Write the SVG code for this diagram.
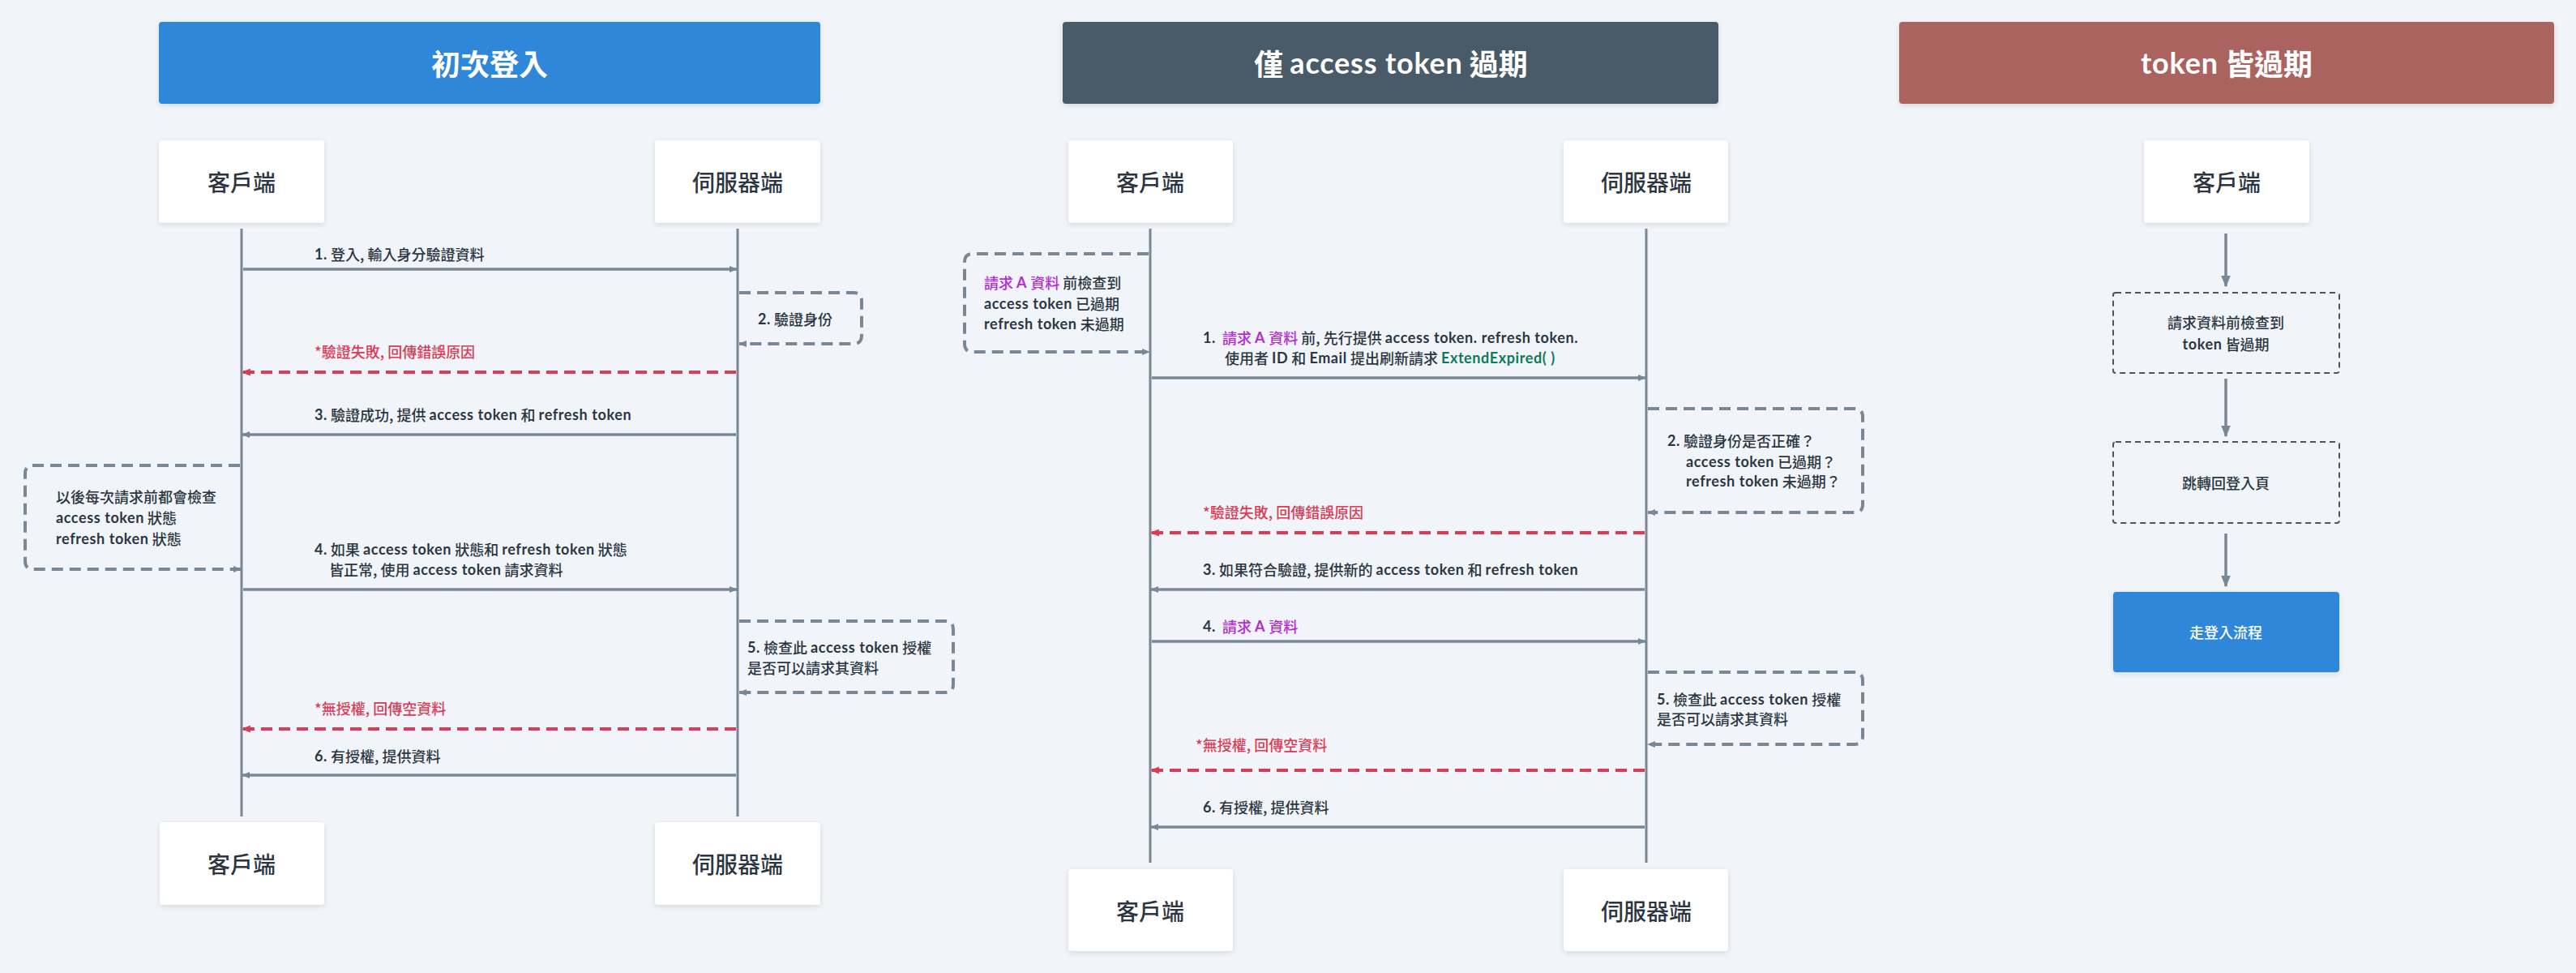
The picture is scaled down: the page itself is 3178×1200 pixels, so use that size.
<svg xmlns="http://www.w3.org/2000/svg" width="3178" height="1200" viewBox="0 0 3178 1200">
<defs>
<style>
text{font-family:"Noto Sans CJK TC","Noto Sans",sans-serif;fill:#2b3642}
.title{font-size:36px;font-weight:700;fill:#fff}
.title .b{font-family:Lato,"Noto Sans CJK TC",sans-serif;letter-spacing:0.8px}
.node{font-size:28px;font-weight:500}
.msg{font-size:18px;font-weight:500}
.err{font-size:18px;font-weight:500;fill:#dc3b55}
.b{font-family:Lato,"Noto Sans CJK TC",sans-serif;font-weight:700;letter-spacing:0.6px}
.pur{fill:#b52ad6}
.grn{fill:#0e7a5a}
.small{font-size:18px;font-weight:500}
.life{stroke:#7a8794;stroke-width:3;fill:none}
.arr{stroke:#7a8794;stroke-width:3.5;fill:none;marker-end:url(#ah)}
.red{stroke:#dc3b55;stroke-width:4;fill:none;stroke-dasharray:14 8;marker-end:url(#ahr)}
.loop{stroke:#7a8794;stroke-width:4;fill:none;stroke-dasharray:14 8;marker-end:url(#ah)}
.flow{stroke:#7a8794;stroke-width:3.5;fill:none;marker-end:url(#ahb)}
.box{fill:#fff}
.dbox{fill:none;stroke:#4a5563;stroke-width:2;stroke-dasharray:7 5}
</style>
<filter id="sh" x="-10%" y="-10%" width="120%" height="130%">
<feDropShadow dx="0" dy="2" stdDeviation="3" flood-color="#000" flood-opacity="0.12"/>
</filter>
<marker id="ah" viewBox="0 0 10 10" refX="9" refY="5" markerWidth="10" markerHeight="10" markerUnits="userSpaceOnUse" orient="auto"><path d="M0,1 L10,5 L0,9 z" fill="#7a8794"/></marker>
<marker id="ahr" viewBox="0 0 10 10" refX="9" refY="5" markerWidth="11" markerHeight="11" markerUnits="userSpaceOnUse" orient="auto"><path d="M0,1 L10,5 L0,9 z" fill="#dc3b55"/></marker>
<marker id="ahb" viewBox="0 0 10 10" refX="9" refY="5" markerWidth="15" markerHeight="15" markerUnits="userSpaceOnUse" orient="auto"><path d="M0,1 L10,5 L0,9 z" fill="#7a8794"/></marker>
</defs>
<rect width="3178" height="1200" fill="#f1f5f9"/>

<!-- Section 1 -->
<g id="title1"><rect x="196" y="27" width="816" height="101" rx="4" fill="#2d87d9" filter="url(#sh)"/><text class="title" x="604" y="77" text-anchor="middle" dominant-baseline="central">初次登入</text></g>
<g id="client1-top"><rect class="box" x="196" y="173" width="204" height="102" rx="4" filter="url(#sh)"/><text class="node" x="298" y="224" text-anchor="middle" dominant-baseline="central">客戶端</text></g>
<g id="server1-top"><rect class="box" x="808" y="173" width="204" height="102" rx="4" filter="url(#sh)"/><text class="node" x="910" y="224" text-anchor="middle" dominant-baseline="central">伺服器端</text></g>
<g id="client1-bottom"><rect class="box" x="197" y="1014" width="203" height="102" rx="4" filter="url(#sh)"/><text class="node" x="298" y="1065" text-anchor="middle" dominant-baseline="central">客戶端</text></g>
<g id="server1-bottom"><rect class="box" x="808" y="1014" width="204" height="102" rx="4" filter="url(#sh)"/><text class="node" x="910" y="1065" text-anchor="middle" dominant-baseline="central">伺服器端</text></g>

<!-- Section 2 -->
<g id="title2"><rect x="1311" y="27" width="809" height="101" rx="4" fill="#4a5a69" filter="url(#sh)"/><text class="title" x="1716" y="77" text-anchor="middle" dominant-baseline="central">僅 <tspan class="b">access token</tspan> 過期</text></g>
<g id="client2-top"><rect class="box" x="1318" y="173" width="203" height="102" rx="4" filter="url(#sh)"/><text class="node" x="1419" y="224" text-anchor="middle" dominant-baseline="central">客戶端</text></g>
<g id="server2-top"><rect class="box" x="1929" y="173" width="203" height="102" rx="4" filter="url(#sh)"/><text class="node" x="2031" y="224" text-anchor="middle" dominant-baseline="central">伺服器端</text></g>
<g id="client2-bottom"><rect class="box" x="1318" y="1072" width="203" height="101" rx="4" filter="url(#sh)"/><text class="node" x="1419" y="1123" text-anchor="middle" dominant-baseline="central">客戶端</text></g>
<g id="server2-bottom"><rect class="box" x="1929" y="1072" width="203" height="101" rx="4" filter="url(#sh)"/><text class="node" x="2031" y="1123" text-anchor="middle" dominant-baseline="central">伺服器端</text></g>

<!-- Section 3 -->
<g id="title3"><rect x="2343" y="27" width="808" height="101" rx="4" fill="#ab6360" filter="url(#sh)"/><text class="title" x="2747" y="77" text-anchor="middle" dominant-baseline="central"><tspan class="b">token</tspan> 皆過期</text></g>
<g id="client3"><rect class="box" x="2645" y="173" width="204" height="102" rx="4" filter="url(#sh)"/><text class="node" x="2747" y="224" text-anchor="middle" dominant-baseline="central">客戶端</text></g>
<g id="check3"><rect class="dbox" x="2607" y="361" width="279" height="99" rx="3"/><text class="small" x="2746" y="397" text-anchor="middle" dominant-baseline="central">請求資料前檢查到</text><text class="small" x="2746" y="424" text-anchor="middle" dominant-baseline="central"><tspan class="b">token</tspan> 皆過期</text></g>
<g id="redirect3"><rect class="dbox" x="2607" y="545" width="279" height="100" rx="3"/><text class="small" x="2746" y="595" text-anchor="middle" dominant-baseline="central">跳轉回登入頁</text></g>
<g id="login3"><rect x="2607" y="730" width="279" height="99" rx="4" fill="#2d87d9" filter="url(#sh)"/><text class="small" x="2746" y="779" text-anchor="middle" dominant-baseline="central" style="fill:#fff">走登入流程</text></g>

<g id="connectors">
<line class="life" x1="298" y1="282" x2="298" y2="1007"/>
<line class="life" x1="910" y1="282" x2="910" y2="1007"/>
<line class="life" x1="1419" y1="282" x2="1419" y2="1064"/>
<line class="life" x1="2031" y1="282" x2="2031" y2="1064"/>

<line class="arr" x1="300" y1="332" x2="909" y2="332"/>
<path class="loop" d="M912,361 H1053 Q1063,361 1063,371 V414 Q1063,424 1053,424 H912"/>
<line class="red" x1="908" y1="459" x2="299" y2="459"/>
<line class="arr" x1="908" y1="536" x2="299" y2="536"/>
<path class="loop" d="M296,574 H41 Q31,574 31,584 V692 Q31,702 41,702 H297"/>
<line class="arr" x1="300" y1="727" x2="909" y2="727"/>
<path class="loop" d="M912,766 H1166 Q1176,766 1176,776 V844 Q1176,854 1166,854 H912"/>
<line class="red" x1="908" y1="899" x2="299" y2="899"/>
<line class="arr" x1="908" y1="956" x2="299" y2="956"/>

<path class="loop" d="M1417,313 H1200 Q1190,313 1190,323 V424 Q1190,434 1200,434 H1418"/>
<line class="arr" x1="1421" y1="466" x2="2030" y2="466"/>
<path class="loop" d="M2033,504 H2288 Q2298,504 2298,514 V622 Q2298,632 2288,632 H2033"/>
<line class="red" x1="2029" y1="657" x2="1420" y2="657"/>
<line class="arr" x1="2029" y1="727" x2="1420" y2="727"/>
<line class="arr" x1="1421" y1="791" x2="2030" y2="791"/>
<path class="loop" d="M2033,829 H2288 Q2298,829 2298,839 V908 Q2298,918 2288,918 H2033"/>
<line class="red" x1="2029" y1="950" x2="1420" y2="950"/>
<line class="arr" x1="2029" y1="1020" x2="1420" y2="1020"/>

<line class="flow" x1="2746" y1="288" x2="2746" y2="353"/>
<line class="flow" x1="2746" y1="467" x2="2746" y2="538"/>
<line class="flow" x1="2746" y1="658" x2="2746" y2="723"/>
</g>

<g id="labels">
<text class="msg" x="388" y="313" dominant-baseline="central"><tspan class="b">1.</tspan> 登入, 輸入身分驗證資料</text>
<text class="msg" x="935" y="393" dominant-baseline="central"><tspan class="b">2.</tspan> 驗證身份</text>
<text class="err" x="388" y="433" dominant-baseline="central">*驗證失敗, 回傳錯誤原因</text>
<text class="msg" x="388" y="511" dominant-baseline="central"><tspan class="b">3.</tspan> 驗證成功, 提供 <tspan class="b">access token</tspan> 和 <tspan class="b">refresh token</tspan></text>
<text class="msg" x="69" y="612" dominant-baseline="central">以後每次請求前都會檢查</text>
<text class="msg" x="69" y="638" dominant-baseline="central"><tspan class="b">access token</tspan> 狀態</text>
<text class="msg" x="69" y="664" dominant-baseline="central"><tspan class="b">refresh token</tspan> 狀態</text>
<text class="msg" x="388" y="677" dominant-baseline="central"><tspan class="b">4.</tspan> 如果 <tspan class="b">access token</tspan> 狀態和 <tspan class="b">refresh token</tspan> 狀態</text>
<text class="msg" x="406" y="702" dominant-baseline="central">皆正常, 使用 <tspan class="b">access token</tspan> 請求資料</text>
<text class="msg" x="922" y="798" dominant-baseline="central"><tspan class="b">5.</tspan> 檢查此 <tspan class="b">access token</tspan> 授權</text>
<text class="msg" x="922" y="823" dominant-baseline="central">是否可以請求其資料</text>
<text class="err" x="388" y="873" dominant-baseline="central">*無授權, 回傳空資料</text>
<text class="msg" x="388" y="932" dominant-baseline="central"><tspan class="b">6.</tspan> 有授權, 提供資料</text>

<text class="msg" x="1214" y="348" dominant-baseline="central"><tspan class="pur">請求 <tspan class="b">A</tspan> 資料</tspan> 前檢查到</text>
<text class="msg" x="1214" y="374" dominant-baseline="central"><tspan class="b">access token</tspan> 已過期</text>
<text class="msg" x="1214" y="399" dominant-baseline="central"><tspan class="b">refresh token</tspan> 未過期</text>
<text class="msg" x="1484" y="416" dominant-baseline="central" xml:space="preserve"><tspan class="b">1.</tspan>  <tspan class="pur">請求 <tspan class="b">A</tspan> 資料</tspan> 前, 先行提供 <tspan class="b">access token. refresh token.</tspan></text>
<text class="msg" x="1511" y="441" dominant-baseline="central">使用者 <tspan class="b">ID</tspan> 和 <tspan class="b">Email</tspan> 提出刷新請求 <tspan class="grn b">ExtendExpired( )</tspan></text>
<text class="msg" x="2057" y="543" dominant-baseline="central"><tspan class="b">2.</tspan> 驗證身份是否正確？</text>
<text class="msg" x="2080" y="569" dominant-baseline="central"><tspan class="b">access token</tspan> 已過期？</text>
<text class="msg" x="2080" y="593" dominant-baseline="central"><tspan class="b">refresh token</tspan> 未過期？</text>
<text class="err" x="1484" y="631" dominant-baseline="central">*驗證失敗, 回傳錯誤原因</text>
<text class="msg" x="1484" y="702" dominant-baseline="central"><tspan class="b">3.</tspan> 如果符合驗證, 提供新的 <tspan class="b">access token</tspan> 和 <tspan class="b">refresh token</tspan></text>
<text class="msg" x="1484" y="772" dominant-baseline="central" xml:space="preserve"><tspan class="b">4.</tspan>  <tspan class="pur">請求 <tspan class="b">A</tspan> 資料</tspan></text>
<text class="msg" x="2044" y="862" dominant-baseline="central"><tspan class="b">5.</tspan> 檢查此 <tspan class="b">access token</tspan> 授權</text>
<text class="msg" x="2044" y="886" dominant-baseline="central">是否可以請求其資料</text>
<text class="err" x="1475" y="918" dominant-baseline="central">*無授權, 回傳空資料</text>
<text class="msg" x="1484" y="995" dominant-baseline="central"><tspan class="b">6.</tspan> 有授權, 提供資料</text>
</g>
</svg>
